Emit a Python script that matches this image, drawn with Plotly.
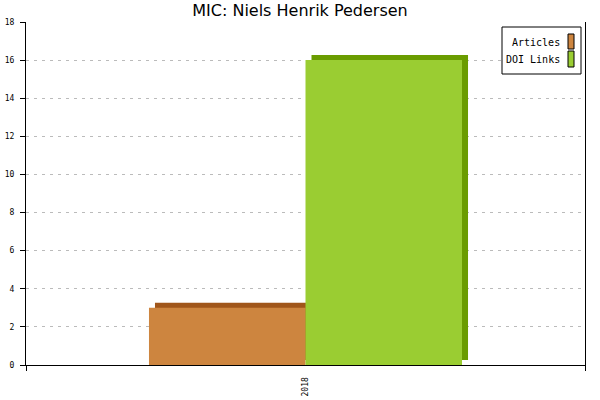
import plotly.graph_objects as go

# ---- data ----
categories = ["2018"]
series_names = ["Articles", "DOI Links"]
articles = [3]
doi_links = [16]
y_ticks = [0, 2, 4, 6, 8, 10, 12, 14, 16, 18]

# ---- style ----
front_colors = ["#CD853F", "#9ACD32"]
side_colors = ["#A0561A", "#6A9C00"]
W, H = 600, 400
ML, MR, MT, MB = 26, 15, 22, 35
PW, PH = W - ML - MR, H - MT - MB
YMAX = 18
bar_w = 0.28
dx = 6 / PW            # depth offset in x units
dy = 5 / PH * YMAX     # depth offset in y units

xpos = list(range(len(categories)))
values = [articles, doi_links]
offsets = [-bar_w, 0.0]

fig = go.Figure()
# depth (shadow) bars first
for vals, off, c in zip(values, offsets, side_colors):
    fig.add_trace(go.Bar(x=xpos, y=vals, base=[dy] * len(vals), offset=off + dx,
                         width=bar_w, marker=dict(color=c, line=dict(width=0)),
                         showlegend=False, hoverinfo="skip"))
# front bars
for name, vals, off, c in zip(series_names, values, offsets, front_colors):
    fig.add_trace(go.Bar(x=xpos, y=vals, offset=off, width=bar_w, name=name,
                         marker=dict(color=c, line=dict(width=0)),
                         showlegend=False, hoverinfo="skip"))

def px_x(p):
    return (p - ML) / PW

def px_y(p):
    return (H - MB - p) / PH

shapes = []
annotations = []
# legend box
shapes.append(dict(type="rect", xref="paper", yref="paper",
                   x0=px_x(502), x1=px_x(581), y0=px_y(74), y1=px_y(27),
                   line=dict(color="black", width=1), fillcolor="white", layer="above"))
leg_rows = [(34, 49, 43), (51, 67, 60)]
for (t, b, cy), name, c in zip(leg_rows, series_names, front_colors):
    shapes.append(dict(type="rect", xref="paper", yref="paper",
                       x0=px_x(568), x1=px_x(574), y0=px_y(b), y1=px_y(t),
                       line=dict(color="black", width=1), fillcolor=c, layer="above"))
    annotations.append(dict(xref="paper", yref="paper", x=px_x(562), y=px_y(cy),
                            xanchor="right", yanchor="middle", showarrow=False,
                            text=name, font=dict(family="DejaVu Sans Mono", size=10, color="black")))

fig.update_layout(
    width=W, height=H,
    margin=dict(l=ML, r=MR, t=MT, b=MB, pad=0, autoexpand=False),
    paper_bgcolor="white", plot_bgcolor="white",
    barmode="overlay",
    title=dict(text="MIC: Niels Henrik Pedersen", x=0.5, xanchor="center",
               y=1 - 10 / H, yanchor="middle", yref="container",
               font=dict(family="DejaVu Sans", size=16, color="black")),
    shapes=shapes, annotations=annotations,
    showlegend=False,
    xaxis=dict(range=[-0.5, len(categories) - 0.5], tickmode="array",
               tickvals=xpos, ticktext=categories, tickangle=-90,
               ticks="", showgrid=False, zeroline=False, automargin=False,
               showline=True, linecolor="black", linewidth=1, ticklabelstandoff=8,
               tickfont=dict(family="DejaVu Sans Mono", size=8, color="black"),
               minor=dict(tickmode="array", tickvals=[-0.5, len(categories) - 0.5],
                          ticks="outside", ticklen=5, tickcolor="black", tickwidth=1,
                          showgrid=False)),
    yaxis=dict(range=[0, YMAX], tickmode="array", tickvals=y_ticks,
               ticks="outside", ticklen=5, tickcolor="black", tickwidth=1,
               showline=True, linecolor="black", linewidth=1, mirror=True,
               showgrid=True, gridcolor="#bbbbbb", gridwidth=1, griddash="3px,5px",
               zeroline=False, automargin=False, ticklabelstandoff=4,
               tickfont=dict(family="DejaVu Sans Mono", size=8, color="black")),
)

fig.write_html("out.html", config={"displayModeBar": False},
               post_script="document.body.style.margin='0';")
